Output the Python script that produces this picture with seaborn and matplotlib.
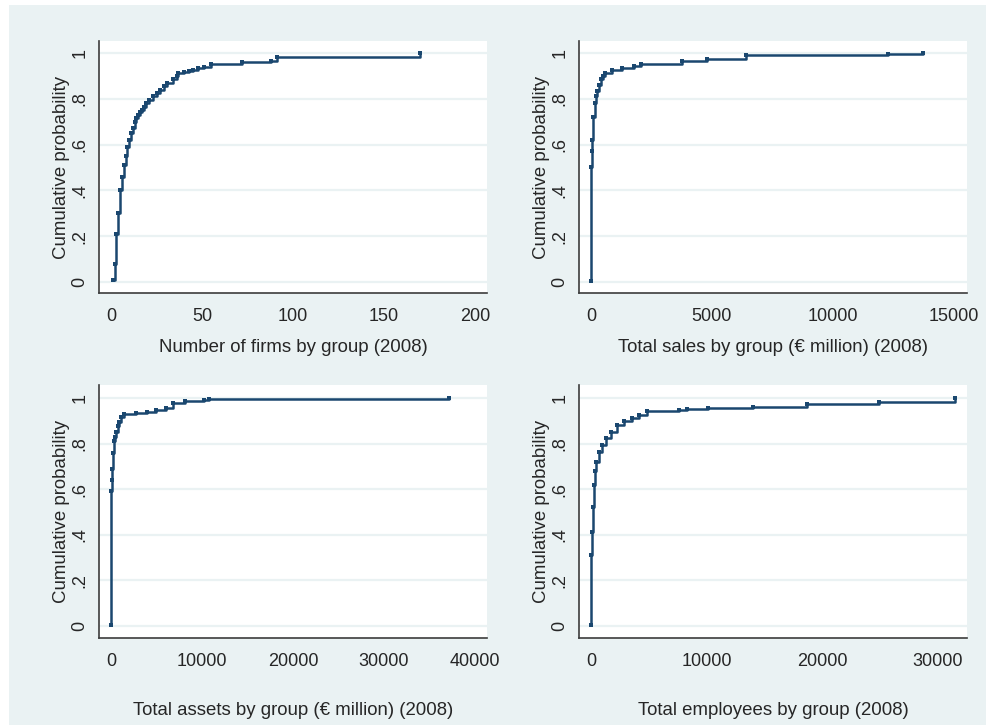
"""Cumulative distributions of business group size measures (2008), Stata-like 2x2 layout."""

import matplotlib.pyplot as plt
import pandas as pd
import seaborn as sns
from matplotlib.patches import Rectangle

sns.set_theme(style="white")
plt.rcParams["font.family"] = ["Liberation Sans", "DejaVu Sans"]

NAVY = "#1A476F"
BG = "#EAF2F3"
AXIS_GREY = "#3C3C3C"

firms_x = [1, 2, 3, 4, 5, 6, 7, 8, 9, 10, 11, 12, 13, 14, 15, 16, 17, 18, 19, 21,
           23, 25, 27, 29, 31, 34, 36, 37, 40, 43, 45, 48, 51, 55, 72, 88, 91, 170]
firms_p = [0.01, 0.08, 0.21, 0.30, 0.40, 0.46, 0.51, 0.55, 0.59, 0.62, 0.65, 0.67,
           0.70, 0.715, 0.73, 0.74, 0.75, 0.765, 0.78, 0.795, 0.81, 0.825, 0.84,
           0.855, 0.87, 0.885, 0.90, 0.91, 0.915, 0.92, 0.925, 0.935, 0.94, 0.95,
           0.96, 0.965, 0.98, 1.0]

sales_x = [10, 15, 30, 55, 95, 150, 200, 260, 330, 400, 500, 600, 880, 1290, 1780,
           2050, 3750, 4780, 6390, 12290, 13730]
sales_p = [0.004, 0.50, 0.57, 0.62, 0.72, 0.78, 0.81, 0.835, 0.86, 0.885, 0.90, 0.91,
           0.925, 0.936, 0.943, 0.953, 0.965, 0.973, 0.99, 0.995, 1.0]

assets_x = [35, 40, 90, 150, 240, 330, 450, 585, 730, 880, 1060, 1430, 2710, 3990,
            4980, 6010, 6810, 8130, 10220, 10770, 37150]
assets_p = [0.003, 0.59, 0.64, 0.69, 0.76, 0.81, 0.83, 0.85, 0.875, 0.895, 0.918,
            0.93, 0.933, 0.937, 0.947, 0.957, 0.98, 0.985, 0.99, 0.997, 1.0]

empl_x = [30, 40, 115, 190, 260, 360, 460, 690, 925, 1270, 1700, 2270, 2850, 3570,
          4150, 4870, 7610, 8330, 10100, 14030, 18650, 24900, 31470]
empl_p = [0.002, 0.31, 0.41, 0.52, 0.62, 0.68, 0.72, 0.765, 0.794, 0.823, 0.852,
          0.88, 0.90, 0.91, 0.925, 0.943, 0.947, 0.95, 0.955, 0.962, 0.974, 0.981,
          1.0]

y_ticks = [0, 0.2, 0.4, 0.6, 0.8, 1.0]
y_tick_labels = ["0", ".2", ".4", ".6", ".8", "1"]

panels = [
    dict(x=firms_x, p=firms_p, label="Number of firms by group (2008)",
         ticks=[0, 50, 100, 150, 200], xlim=(-6.6, 206.6),
         rect=[0.1001, 0.5959, 0.3923, 0.3476], ylim=(-0.048, 1.052), pad=10),
    dict(x=sales_x, p=sales_p, label="Total sales by group (\u20ac million) (2008)",
         ticks=[0, 5000, 10000, 15000], xlim=(-496, 15537),
         rect=[0.5854, 0.5959, 0.3923, 0.3476], ylim=(-0.048, 1.052), pad=10),
    dict(x=assets_x, p=assets_p, label="Total assets by group (\u20ac million) (2008)",
         ticks=[0, 10000, 20000, 30000, 40000], xlim=(-1319, 41319),
         rect=[0.1001, 0.1200, 0.3923, 0.3490], ylim=(-0.053, 1.057), pad=23),
    dict(x=empl_x, p=empl_p, label="Total employees by group (2008)",
         ticks=[0, 10000, 20000, 30000], xlim=(-1037, 32500),
         rect=[0.5854, 0.1200, 0.3923, 0.3490], ylim=(-0.053, 1.057), pad=23),
]

fig = plt.figure(figsize=(9.89, 7.25), dpi=100)
fig.patch.set_facecolor("white")
fig.patches.append(Rectangle((9 / 989, 0), 977 / 989, 720 / 725,
                             transform=fig.transFigure, facecolor=BG,
                             edgecolor="none", zorder=-10))

for spec in panels:
    ax = fig.add_axes(spec["rect"])
    ax.set_facecolor("white")
    df = pd.DataFrame({"value": spec["x"], "cum": spec["p"]})

    for yt in y_ticks:
        ax.axhline(yt, color=BG, linewidth=1.6, zorder=0)

    sns.lineplot(data=df, x="value", y="cum", ax=ax, estimator=None, sort=True,
                 drawstyle="steps-post", color=NAVY, linewidth=1.8,
                 marker="s", markersize=2.6, markeredgewidth=0)

    ax.set_xlim(*spec["xlim"])
    ax.set_ylim(*spec["ylim"])
    ax.set_xticks(spec["ticks"])
    ax.set_xticklabels([str(t) for t in spec["ticks"]])
    ax.set_yticks(y_ticks)
    ax.set_yticklabels(y_tick_labels, rotation=90, va="center")
    ax.set_xlabel(spec["label"], fontsize=13.4, labelpad=spec["pad"])
    ax.set_ylabel("Cumulative probability", fontsize=13.4, labelpad=1)
    ax.tick_params(axis="both", labelsize=13, length=4.5, width=1,
                   color=AXIS_GREY, direction="out")
    ax.tick_params(axis="x", pad=6.5)
    ax.tick_params(axis="y", pad=3)

    for side in ["top", "right"]:
        ax.spines[side].set_visible(False)
    for side in ["left", "bottom"]:
        ax.spines[side].set_color(AXIS_GREY)
        ax.spines[side].set_linewidth(1.2)

fig.savefig("out.png", dpi=100, facecolor=fig.get_facecolor())
plt.close(fig)
